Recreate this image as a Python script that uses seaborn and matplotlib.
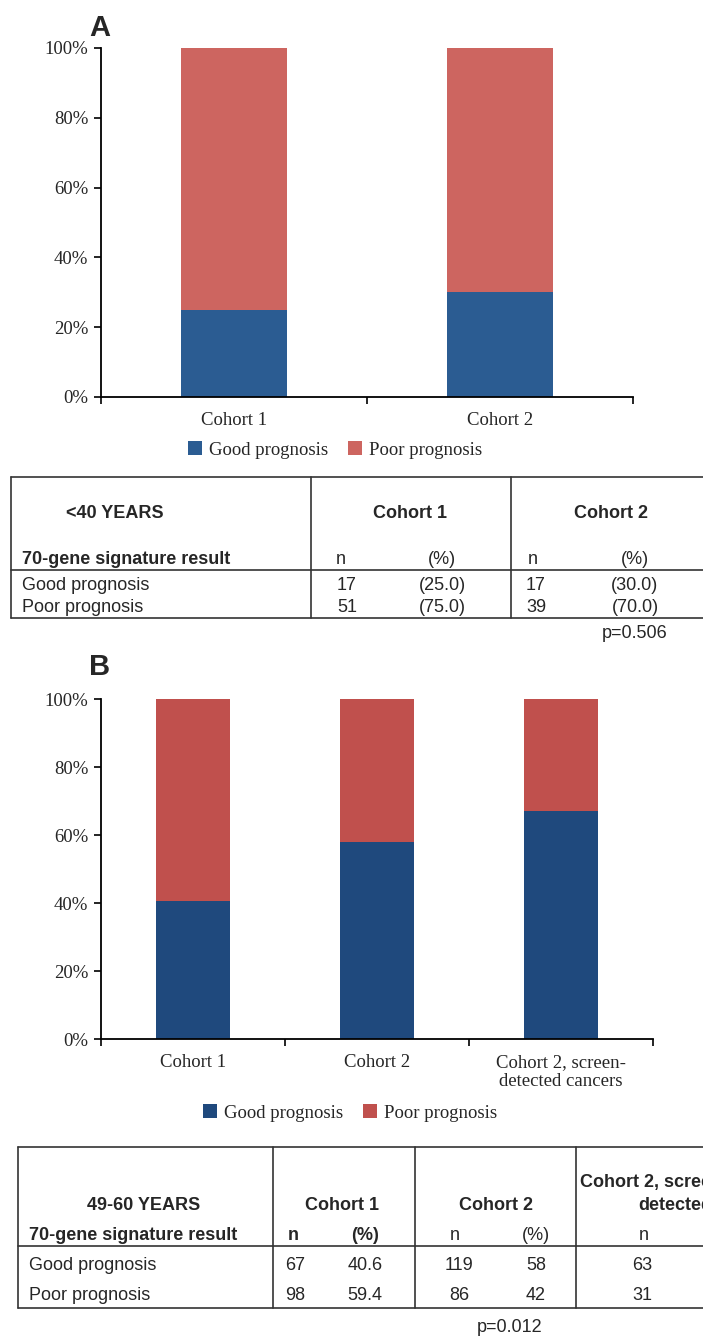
import matplotlib
matplotlib.use("Agg")
import matplotlib.pyplot as plt
from matplotlib.patches import Patch
from matplotlib.lines import Line2D
import numpy as np
import pandas as pd
import seaborn as sns

# ---------------- data ----------------
cats_a = ["Cohort 1", "Cohort 2"]
good_a = [25.0, 30.0]
poor_a = [75.0, 70.0]

cats_b = ["Cohort 1", "Cohort 2", "Cohort 2, screen-\ndetected cancers"]
good_b = [40.6, 58.0, 67.0]
poor_b = [59.4, 42.0, 33.0]

yticks = [0, 20, 40, 60, 80, 100]
legend_labels = ["Good prognosis", "Poor prognosis"]

# table A (<40 years)
tabA_n_good = [17, 17]
tabA_n_poor = [51, 39]
tabA_p_good = ["(25.0)", "(30.0)"]
tabA_p_poor = ["(75.0)", "(70.0)"]
tabA_p = "p=0.506"

# table B (49-60 years)
tabB_n_good = [67, 119, 63]
tabB_n_poor = [98, 86, 31]
tabB_p_good = ["40.6", "58"]
tabB_p_poor = ["59.4", "42"]
tabB_p = "p=0.012"

# ---------------- style ----------------
sns.set_theme(style="white")
plt.rcParams["font.family"] = ["Liberation Serif", "DejaVu Serif"]

W, H = 703, 1336
fig = plt.figure(figsize=(W / 100, H / 100), dpi=100)

BLUE_A, RED_A = "#2B5C92", "#CD6560"
BLUE_B, RED_B = "#1F497D", "#C0504D"
SERIF = ["Liberation Serif", "DejaVu Serif"]
SANS = ["Liberation Sans", "DejaVu Sans"]
SFS = 13.5


def fx(px):
    return px / W


def fy(py):
    return 1 - py / H


def stacked(ax, cats, good, poor, blue, red):
    total = [g + p for g, p in zip(good, poor)]
    df = pd.DataFrame({"cat": cats, "good": good, "total": total})
    sns.barplot(data=df, x="cat", y="total", color=red, width=0.4,
                saturation=1, ax=ax, linewidth=0, order=cats)
    sns.barplot(data=df, x="cat", y="good", color=blue, width=0.4,
                saturation=1, ax=ax, linewidth=0, order=cats)
    n = len(cats)
    ax.set_xlim(-0.5, n - 0.5)
    ax.set_ylim(0, 100)
    ax.set_yticks(yticks)
    ax.set_yticklabels([f"{t}%" for t in yticks], fontsize=SFS, family=SERIF)
    ax.set_xticks(range(n))
    ax.set_xticklabels(cats, fontsize=SFS, family=SERIF, linespacing=1.15)
    ax.set_xticks(np.arange(n + 1) - 0.5, minor=True)
    ax.tick_params(axis="x", which="major", length=0, pad=11)
    ax.tick_params(axis="x", which="minor", length=5, width=1.2, color="black",
                   direction="out", bottom=True)
    ax.tick_params(axis="y", which="major", length=5, width=1.2, color="black",
                   direction="out", left=True, pad=4)
    ax.set_xlabel("")
    ax.set_ylabel("")
    for s in ["top", "right"]:
        ax.spines[s].set_visible(False)
    for s in ["left", "bottom"]:
        ax.spines[s].set_color("black")
        ax.spines[s].set_linewidth(1.3)
    ax.grid(False)


# Panel A
axA = fig.add_axes([fx(101), fy(397), fx(633) - fx(101), fy(48) - fy(397)])
stacked(axA, cats_a, good_a, poor_a, BLUE_A, RED_A)
# Panel B
axB = fig.add_axes([fx(101), fy(1039), fx(653) - fx(101), fy(699) - fy(1039)])
stacked(axB, cats_b, good_b, poor_b, BLUE_B, RED_B)

# legends
for (blue, red, cx, cy) in [(BLUE_A, RED_A, 335, 450), (BLUE_B, RED_B, 350, 1113)]:
    handles = [Patch(facecolor=blue, edgecolor="none"), Patch(facecolor=red, edgecolor="none")]
    fig.legend(handles, legend_labels, loc="center", bbox_to_anchor=(fx(cx), fy(cy)),
               ncol=2, frameon=False, handlelength=0.75, handleheight=0.75,
               handletextpad=0.35, columnspacing=1.1, prop={"family": SERIF, "size": SFS})

# Panel letters
fig.text(fx(100), fy(28), "A", ha="center", va="center", fontsize=21,
         fontweight="bold", family=["Liberation Sans Narrow", "Liberation Sans"])
fig.text(fx(100), fy(667), "B", ha="center", va="center", fontsize=21,
         fontweight="bold", family=["Liberation Sans Narrow", "Liberation Sans"])

# overlay axis for tables, in pixel coordinates
axT = fig.add_axes([0, 0, 1, 1], facecolor="none")
axT.set_xlim(0, W)
axT.set_ylim(H, 0)
axT.axis("off")

LC = "#333333"
LW = 1.2
FS = 13


def hline(y, x0, x1):
    axT.add_line(Line2D([x0, x1], [y, y], color=LC, lw=LW, clip_on=False))


def vline(x, y0, y1):
    axT.add_line(Line2D([x, x], [y0, y1], color=LC, lw=LW, clip_on=False))


def txt(x, y, s, ha="center", bold=False, size=FS):
    axT.text(x, y, s, ha=ha, va="center", fontsize=size, family=SANS,
             fontweight="bold" if bold else "normal", clip_on=False)


# ----- Table A -----
hline(477, 11, 720)
hline(570, 11, 720)
hline(618, 11, 720)
for x in [11, 311, 511]:
    vline(x, 477, 618)
txt(115, 513, "<40 YEARS", bold=True)
txt(410, 513, "Cohort 1", bold=True)
txt(611, 513, "Cohort 2", bold=True)
txt(22, 559, "70-gene signature result", ha="left", bold=True)
txt(341, 559, "n")
txt(442, 559, "(%)")
txt(533, 559, "n")
txt(635, 559, "(%)")
txt(22, 585, "Good prognosis", ha="left")
txt(22, 607, "Poor prognosis", ha="left")
for i, (nx, px) in enumerate([(337, 442), (526, 635)]):
    txt(nx, 585, str(tabA_n_good[i]), ha="left")
    txt(px, 585, tabA_p_good[i])
    txt(nx, 607, str(tabA_n_poor[i]), ha="left")
    txt(px, 607, tabA_p_poor[i])
txt(635, 633, tabA_p)

# ----- Table B -----
hline(1147, 18, 720)
hline(1246, 18, 720)
hline(1308, 18, 720)
for x in [18, 273, 415, 576]:
    vline(x, 1147, 1308)
txt(144, 1206, "49-60 YEARS", bold=True)
txt(342, 1206, "Cohort 1", bold=True)
txt(496, 1206, "Cohort 2", bold=True)
txt(580, 1183, "Cohort 2, screen-", ha="left", bold=True)
txt(638, 1206, "detected", ha="left", bold=True)
txt(29, 1235, "70-gene signature result", ha="left", bold=True)
txt(293, 1235, "n", bold=True)
txt(365, 1235, "(%)", bold=True)
txt(455, 1235, "n")
txt(536, 1235, "(%)")
txt(644, 1235, "n")
txt(29, 1265, "Good prognosis", ha="left")
txt(29, 1295, "Poor prognosis", ha="left")
npos = [295, 459, 642]
ppos = [365, 536]
for i, x in enumerate(npos):
    txt(x, 1265, str(tabB_n_good[i]))
    txt(x, 1295, str(tabB_n_poor[i]))
for i, x in enumerate(ppos):
    txt(x, 1265, tabB_p_good[i])
    txt(x, 1295, tabB_p_poor[i])
txt(510, 1328, tabB_p)

fig.savefig("out.png", dpi=100, facecolor="white")
